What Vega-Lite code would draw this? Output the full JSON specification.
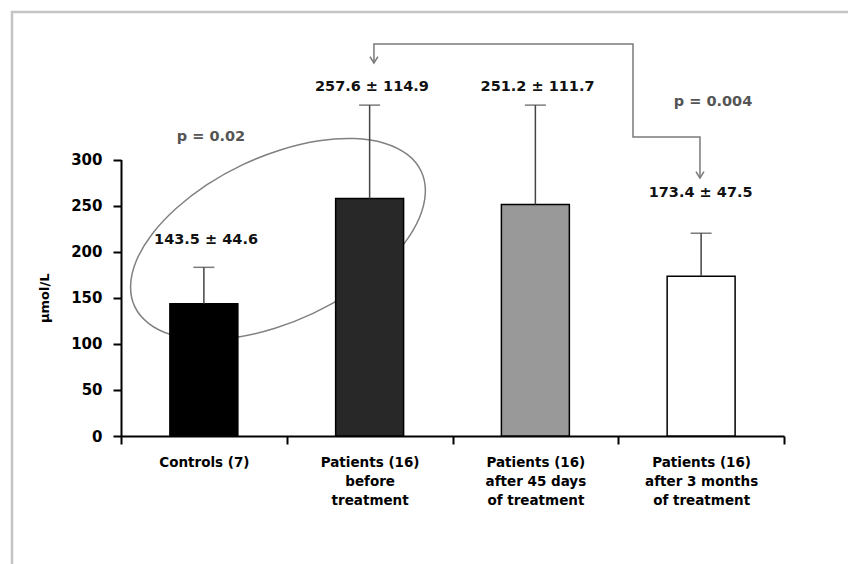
{
  "$schema": "https://vega.github.io/schema/vega-lite/v6.json",
  "width": 856,
  "height": 572,
  "autosize": {"type": "none"},
  "padding": {"left": 12, "top": 12, "right": -20, "bottom": -20},
  "background": "#ffffff",
  "config": {
    "view": {"stroke": "#c4c4c4", "strokeWidth": 2.5},
    "axis": {"grid": false}
  },
  "datasets": {
    "bars": [
      {"cat": "Controls (7)", "mean": 143.5, "upper": 183},
      {"cat": "Patients (16)|before|treatment", "mean": 257.6, "upper": 359},
      {"cat": "Patients (16)|after 45 days|of treatment", "mean": 251.2, "upper": 359},
      {"cat": "Patients (16)|after 3 months|of treatment", "mean": 173.4, "upper": 220}
    ],
    "values": [
      {"text": "143.5 ± 44.6", "x": 0.513, "y": 212.7},
      {"text": "257.6 ± 114.9", "x": 1.514, "y": 378.7},
      {"text": "251.2 ± 111.7", "x": 2.513, "y": 378.7},
      {"text": "173.4 ± 47.5", "x": 3.497, "y": 263.6}
    ],
    "pvalues": [
      {"text": "p = 0.02", "x": 0.543, "y": 324.4},
      {"text": "p = 0.004", "x": 3.572, "y": 362.4}
    ],
    "arrow": [
      {"o": 1, "x": 1.526, "y": 404.7},
      {"o": 2, "x": 1.526, "y": 425.3},
      {"o": 3, "x": 3.089, "y": 425.3},
      {"o": 4, "x": 3.089, "y": 324.4},
      {"o": 5, "x": 3.493, "y": 324.4},
      {"o": 6, "x": 3.493, "y": 279.9}
    ],
    "heads": [
      {"x": 1.526, "y": 404.7},
      {"x": 3.493, "y": 279.9}
    ],
    "ellipse": [
      {"t": 0, "x": 1.811, "y": 287.2},
      {"t": 15, "x": 1.727, "y": 305.5},
      {"t": 30, "x": 1.589, "y": 317.7},
      {"t": 45, "x": 1.408, "y": 322.7},
      {"t": 60, "x": 1.196, "y": 320.3},
      {"t": 75, "x": 0.966, "y": 310.6},
      {"t": 90, "x": 0.735, "y": 294.4},
      {"t": 105, "x": 0.519, "y": 272.7},
      {"t": 120, "x": 0.332, "y": 246.8},
      {"t": 135, "x": 0.186, "y": 218.7},
      {"t": 150, "x": 0.093, "y": 190.4},
      {"t": 165, "x": 0.058, "y": 163.6},
      {"t": 180, "x": 0.083, "y": 140.3},
      {"t": 195, "x": 0.168, "y": 122.0},
      {"t": 210, "x": 0.305, "y": 109.8},
      {"t": 225, "x": 0.486, "y": 104.8},
      {"t": 240, "x": 0.699, "y": 107.2},
      {"t": 255, "x": 0.929, "y": 116.9},
      {"t": 270, "x": 1.159, "y": 133.1},
      {"t": 285, "x": 1.376, "y": 154.8},
      {"t": 300, "x": 1.563, "y": 180.6},
      {"t": 315, "x": 1.708, "y": 208.7},
      {"t": 330, "x": 1.801, "y": 237.1},
      {"t": 345, "x": 1.836, "y": 263.9}
    ]
  },
  "resolve": {"scale": {"x": "independent"}},
  "layer": [
    {
      "data": {"name": "ellipse"},
      "mark": {"type": "line", "interpolate": "cardinal-closed", "stroke": "#808080", "strokeWidth": 1.5},
      "encoding": {
        "x": {"field": "x", "type": "quantitative", "axis": null, "scale": {"domain": [0, 4], "range": [109, 772], "nice": false, "zero": false}},
        "y": {"field": "y", "type": "quantitative", "title": "μmol/L", "scale": {"domain": [0, 300], "range": [424, 147.5], "nice": false}},
        "order": {"field": "t", "type": "quantitative"}
      }
    },
    {
      "data": {"name": "bars"},
      "mark": {"type": "bar", "stroke": "#000000", "strokeWidth": 1.5, "width": {"band": 0.41}},
      "encoding": {
        "x": {
          "field": "cat", "type": "nominal", "sort": null,
          "scale": {"range": [109, 772], "paddingInner": 0, "paddingOuter": 0},
          "axis": {
            "title": null, "offset": -148, "tickBand": "extent", "labelAngle": 0,
            "labelExpr": "split(datum.label, '|')",
            "domainColor": "#000000", "domainWidth": 2, "tickColor": "#000000", "tickWidth": 2, "tickSize": 8,
            "labelFont": "DejaVu Sans", "labelFontWeight": "bold", "labelFontSize": 13.5, "labelColor": "#000000",
            "labelLineHeight": 19, "labelPadding": 11, "labelLimit": 200
          }
        },
        "y": {
          "field": "mean", "type": "quantitative", "title": "μmol/L",
          "scale": {"domain": [0, 300], "range": [424, 147.5], "nice": false},
          "axis": {
            "offset": -109, "values": [0, 50, 100, 150, 200, 250, 300],
            "domainColor": "#000000", "domainWidth": 2, "tickColor": "#000000", "tickWidth": 2, "tickSize": 8,
            "labelFont": "DejaVu Sans", "labelFontWeight": "bold", "labelFontSize": 15, "labelColor": "#000000", "labelPadding": 11,
            "titleFont": "DejaVu Sans", "titleFontWeight": "bold", "titleFontSize": 13, "titleColor": "#000000", "titlePadding": 19
          }
        },
        "color": {
          "field": "cat", "type": "nominal", "legend": null,
          "scale": {
            "domain": ["Controls (7)", "Patients (16)|before|treatment", "Patients (16)|after 45 days|of treatment", "Patients (16)|after 3 months|of treatment"],
            "range": ["#000000", "#282828", "#999999", "#ffffff"]
          }
        }
      }
    },
    {
      "data": {"name": "bars"},
      "mark": {"type": "rule", "stroke": "#444444", "strokeWidth": 1.5},
      "encoding": {
        "x": {"field": "cat", "type": "nominal", "sort": null, "axis": null, "scale": {"range": [109, 772], "paddingInner": 0, "paddingOuter": 0}},
        "y": {"field": "mean", "type": "quantitative", "title": "μmol/L"},
        "y2": {"field": "upper"}
      }
    },
    {
      "data": {"name": "bars"},
      "mark": {"type": "tick", "color": "#444444", "size": 21, "thickness": 1.5},
      "encoding": {
        "x": {"field": "cat", "type": "nominal", "sort": null, "axis": null, "scale": {"range": [109, 772], "paddingInner": 0, "paddingOuter": 0}},
        "y": {"field": "upper", "type": "quantitative", "title": "μmol/L"}
      }
    },
    {
      "data": {"name": "values"},
      "mark": {"type": "text", "font": "DejaVu Sans", "fontWeight": "bold", "fontSize": 14.5, "color": "#111111", "baseline": "middle", "align": "center"},
      "encoding": {
        "x": {"field": "x", "type": "quantitative", "axis": null, "scale": {"domain": [0, 4], "range": [109, 772], "nice": false, "zero": false}},
        "y": {"field": "y", "type": "quantitative", "title": "μmol/L"},
        "text": {"field": "text"}
      }
    },
    {
      "data": {"name": "pvalues"},
      "mark": {"type": "text", "font": "DejaVu Sans", "fontWeight": "bold", "fontSize": 14.5, "color": "#555555", "baseline": "middle", "align": "center"},
      "encoding": {
        "x": {"field": "x", "type": "quantitative", "axis": null, "scale": {"domain": [0, 4], "range": [109, 772], "nice": false, "zero": false}},
        "y": {"field": "y", "type": "quantitative", "title": "μmol/L"},
        "text": {"field": "text"}
      }
    },
    {
      "data": {"name": "arrow"},
      "mark": {"type": "line", "stroke": "#7a7a7a", "strokeWidth": 1.5},
      "encoding": {
        "x": {"field": "x", "type": "quantitative", "axis": null, "scale": {"domain": [0, 4], "range": [109, 772], "nice": false, "zero": false}},
        "y": {"field": "y", "type": "quantitative", "title": "μmol/L"},
        "order": {"field": "o", "type": "quantitative"}
      }
    },
    {
      "data": {"name": "heads"},
      "mark": {"type": "point", "shape": "M -1 -1.6 L 0 0 L 1 -1.6", "filled": false, "stroke": "#7a7a7a", "strokeWidth": 1.5, "size": 64, "opacity": 1},
      "encoding": {
        "x": {"field": "x", "type": "quantitative", "axis": null, "scale": {"domain": [0, 4], "range": [109, 772], "nice": false, "zero": false}},
        "y": {"field": "y", "type": "quantitative", "title": "μmol/L"}
      }
    }
  ]
}
